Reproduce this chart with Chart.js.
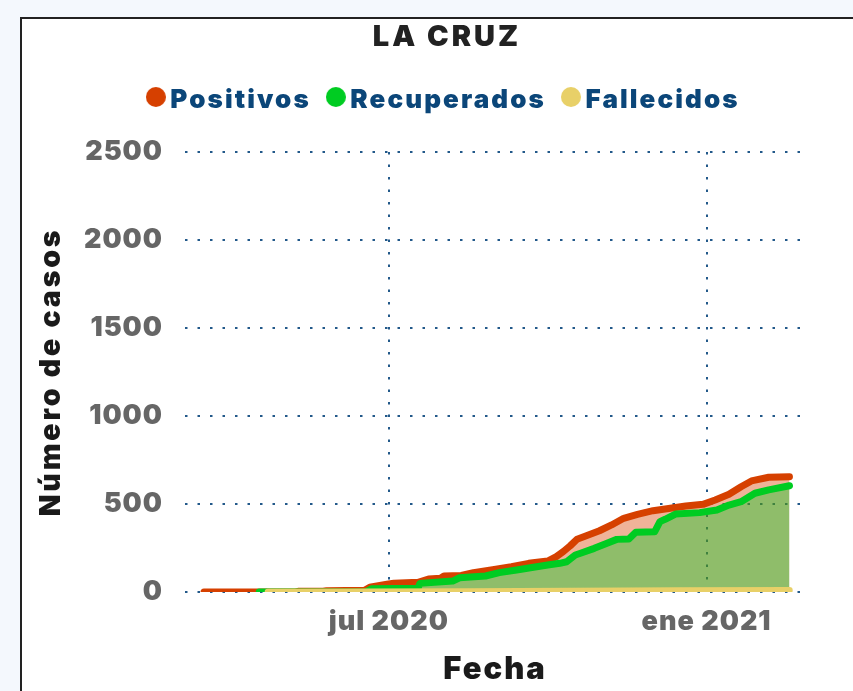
<!DOCTYPE html>
<html>
<head>
<meta charset="utf-8">
<script src="https://cdn.jsdelivr.net/npm/chart.js@4.4.1/dist/chart.umd.min.js"></script>
<style>
html, body { margin: 0; padding: 0; overflow: hidden; background: #f4f8fd; width: 853px; height: 691px; }
#marco { position: absolute; left: 20px; top: 17px; width: 900px; height: 760px; border: 2px solid #222; background: #fff; }
#lienzo { position: absolute; left: 22px; top: 19px; }
</style>
</head>
<body>
<div id="marco"></div>
<canvas id="lienzo" width="850" height="672"></canvas>
<script>
// ---- Datos ----
const titulo = 'LA CRUZ';
const nombresSeries = ['Positivos', 'Recuperados', 'Fallecidos'];

const fechasPositivos = ['2020-03-16','2020-05-08','2020-05-10','2020-05-24','2020-05-26','2020-06-17','2020-06-20','2020-06-30','2020-07-04','2020-07-18','2020-07-24','2020-07-31','2020-08-02','2020-08-12','2020-08-19','2020-09-01','2020-09-10','2020-09-20','2020-10-01','2020-10-06','2020-10-10','2020-10-14','2020-10-18','2020-10-23','2020-10-31','2020-11-07','2020-11-14','2020-11-22','2020-12-01','2020-12-11','2020-12-20','2020-12-30','2021-01-06','2021-01-14','2021-01-21','2021-01-27','2021-02-06','2021-02-18'];
const positivos = [0,0,4,4,7,10,27,44,50,55,74,78,91,94,110,129,144,163,176,201,229,262,300,318,348,381,419,441,462,476,489,498,523,555,598,631,652,655];

const fechasRecuperados = ['2020-04-17','2020-06-18','2020-06-21','2020-07-18','2020-07-19','2020-08-07','2020-08-11','2020-08-26','2020-09-03','2020-09-13','2020-09-21','2020-10-01','2020-10-08','2020-10-12','2020-10-17','2020-10-20','2020-10-28','2020-11-04','2020-11-10','2020-11-17','2020-11-21','2020-12-02','2020-12-05','2020-12-08','2020-12-14','2020-12-28','2021-01-07','2021-01-14','2021-01-21','2021-01-29','2021-02-06','2021-02-18'];
const recuperados = [0,2,18,22,49,62,81,91,110,125,138,153,163,172,210,220,248,276,299,301,339,343,400,413,443,451,466,494,513,561,580,604];

const fechasFallecidos = ['2020-04-22','2020-06-15','2020-08-15','2020-10-15','2020-12-15','2021-02-18'];
const fallecidos = [0,1,3,5,8,10];

const rangoFechas = ['2020-03-05','2021-02-27'];
const tickFechas = ['2020-07-01','2021-01-01'];
const tickEtiquetas = ['jul 2020','ene 2021'];
const rangoY = [0, 2500];
const pasoY = 500;
const tituloX = 'Fecha';
const tituloY = 'Número de casos';

// ---- Estilo ----
const FUENTE = "Inter, 'DejaVu Sans', sans-serif";
const PESO = 900;
const colores = ['rgb(214,64,0)', 'rgb(0,204,34)', 'rgb(232,208,104)'];
const rellenos = ['rgba(214,64,0,0.4)', 'rgba(0,204,34,0.4)', 'rgba(232,208,104,0.4)'];
const azulRejilla = '#22598a';

// letter spacing per font size (px) -> spacing (px)
const espaciado = { '29': 3, '26': 2.1, '27': 1, '28.5': 2.8, '31': 2 };

const ORIGEN = Date.parse('2020-03-01T00:00:00Z');
const dia = s => (Date.parse(s + 'T00:00:00Z') - ORIGEN) / 864e5;
const puntos = (fechas, valores) => fechas.map((f, i) => ({ x: dia(f), y: valores[i] }));

function marcador(color) {
  const c = document.createElement('canvas');
  c.width = 20; c.height = 26;
  const g = c.getContext('2d');
  g.fillStyle = color;
  g.beginPath(); g.arc(10, 10, 10, 0, Math.PI * 2); g.fill();
  return c;
}
const marcadores = colores.map(marcador);

const lienzo = document.getElementById('lienzo');
const ctx = lienzo.getContext('2d');
const fillTextOrig = ctx.fillText.bind(ctx);
const measureTextOrig = ctx.measureText.bind(ctx);
function ajustarEspaciado() {
  if (!('letterSpacing' in ctx)) return;
  const m = ctx.font.match(/(\d+(?:\.\d+)?)px/);
  const ls = m ? espaciado[m[1]] : 0;
  ctx.letterSpacing = (ls || 0) + 'px';
}
ctx.fillText = function (t, x, y, mw) { ajustarEspaciado(); return mw === undefined ? fillTextOrig(t, x, y) : fillTextOrig(t, x, y, mw); };
ctx.measureText = function (t) { ajustarEspaciado(); return measureTextOrig(t); };

const tickTexto = { family: FUENTE, size: 27, weight: PESO, lineHeight: 1.2 };

new Chart(ctx, {
  type: 'line',
  data: {
    datasets: [
      { label: nombresSeries[0], data: puntos(fechasPositivos, positivos), borderColor: colores[0], backgroundColor: rellenos[0], fill: 'origin', order: 3, borderWidth: 7 },
      { label: nombresSeries[1], data: puntos(fechasRecuperados, recuperados), borderColor: colores[1], backgroundColor: rellenos[1], fill: 'origin', order: 2, borderWidth: 7 },
      { label: nombresSeries[2], data: puntos(fechasFallecidos, fallecidos), borderColor: colores[2], backgroundColor: rellenos[2], fill: 'origin', order: 1, borderWidth: 6.5 }
    ]
  },
  options: {
    responsive: false,
    animation: false,
    layout: { padding: 0 },
    elements: {
      point: { radius: 0, hoverRadius: 0 },
      line: { tension: 0, borderCapStyle: 'round', borderJoinStyle: 'round' }
    },
    plugins: {
      title: { display: true, text: titulo, color: '#222', font: { family: FUENTE, size: 29, weight: PESO, lineHeight: 1.2 }, padding: { top: 1, bottom: 8.7 } },
      subtitle: { display: true, text: '', weight: 500, font: { size: 10, lineHeight: 1 }, padding: { top: 19, bottom: 0 } },
      legend: {
        display: true,
        labels: {
          usePointStyle: true,
          pointStyleWidth: 3,
          padding: 23.5,
          color: '#0b4679',
          font: { family: FUENTE, size: 26, weight: PESO },
          sort: (a, b) => a.datasetIndex - b.datasetIndex,
          generateLabels: (chart) => {
            const items = Chart.defaults.plugins.legend.labels.generateLabels(chart);
            items.forEach(it => { it.pointStyle = marcadores[it.datasetIndex]; });
            return items;
          }
        }
      },
      tooltip: { enabled: false }
    },
    scales: {
      x: {
        type: 'linear',
        min: dia(rangoFechas[0]),
        max: dia(rangoFechas[1]),
        afterBuildTicks: s => { s.ticks = tickFechas.map(f => ({ value: dia(f) })); },
        afterFit: s => { s.height = 99; },
        ticks: {
          autoSkip: false, maxRotation: 0, minRotation: 0, padding: 14, color: '#666', font: tickTexto,
          callback: v => { const i = tickFechas.findIndex(f => dia(f) === v); return i >= 0 ? tickEtiquetas[i] : ''; }
        },
        grid: { color: azulRejilla, lineWidth: 2, drawTicks: false },
        border: { display: false, dash: [2.5, 10] },
        title: { display: true, text: tituloX, color: '#1a1a1a', font: { family: FUENTE, size: 31, weight: PESO, lineHeight: 1.2 }, padding: { top: 1.4, bottom: 2.4 } }
      },
      y: {
        min: rangoY[0], max: rangoY[1],
        afterFit: s => { s.width = 163; },
        ticks: { stepSize: pasoY, padding: 22, color: '#666', font: tickTexto, callback: v => String(v) },
        grid: { color: azulRejilla, lineWidth: 2, drawTicks: false },
        border: { display: false, dash: [2.5, 10] },
        title: { display: true, text: tituloY, color: '#1a1a1a', font: { family: FUENTE, size: 28.5, weight: PESO, lineHeight: 1.2 }, padding: { top: 12, bottom: 0 } }
      },
      y2: {
        position: 'right', min: 0, max: 1,
        afterFit: s => { s.width = 67; },
        ticks: { display: false },
        grid: { display: false },
        border: { display: false }
      }
    }
  }
});
</script>
</body>
</html>
